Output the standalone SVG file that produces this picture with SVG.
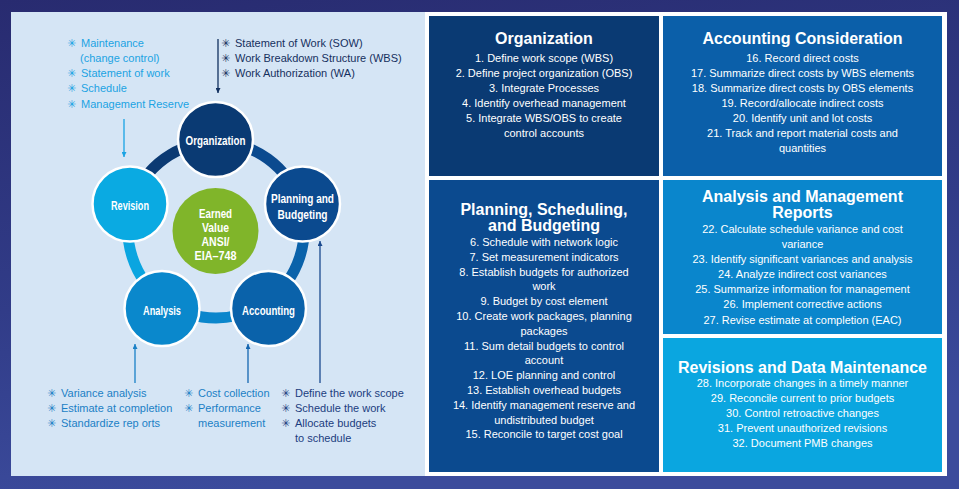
<svg xmlns="http://www.w3.org/2000/svg" width="959" height="489" viewBox="0 0 959 489">
<defs>
<linearGradient id="bg" x1="0" y1="0" x2="0.25" y2="1">
<stop offset="0" stop-color="#282b70"/>
<stop offset="0.6" stop-color="#313c88"/>
<stop offset="1" stop-color="#3b4b9c"/>
</linearGradient>
<marker id="m-lb" viewBox="0 0 6 6" refX="6" refY="3" markerWidth="5" markerHeight="5" markerUnits="userSpaceOnUse" orient="auto"><path d="M0,0 L6,3 L0,6 z" fill="#1aa3e3"/></marker>
<marker id="m-dk" viewBox="0 0 6 6" refX="6" refY="3" markerWidth="5" markerHeight="5" markerUnits="userSpaceOnUse" orient="auto"><path d="M0,0 L6,3 L0,6 z" fill="#12305f"/></marker>
<marker id="m-mb" viewBox="0 0 6 6" refX="6" refY="3" markerWidth="5" markerHeight="5" markerUnits="userSpaceOnUse" orient="auto"><path d="M0,0 L6,3 L0,6 z" fill="#1a80c6"/></marker>
<marker id="m-ac" viewBox="0 0 6 6" refX="6" refY="3" markerWidth="5" markerHeight="5" markerUnits="userSpaceOnUse" orient="auto"><path d="M0,0 L6,3 L0,6 z" fill="#1566b0"/></marker>
<marker id="m-pl" viewBox="0 0 6 6" refX="6" refY="3" markerWidth="5" markerHeight="5" markerUnits="userSpaceOnUse" orient="auto"><path d="M0,0 L6,3 L0,6 z" fill="#1b4a8e"/></marker>
</defs>
<style>
.ll{font-family:"Liberation Sans",Arial,sans-serif;font-size:11px}
.b{font-family:"DejaVu Sans",sans-serif;font-size:11px}
.lb{fill:#1ba3e3}
.dk{fill:#15305e}
.mb{fill:#1b7fc5}
.pl{fill:#1c3d7f}
.ct{font-family:"Liberation Sans",Arial,sans-serif;font-weight:bold;font-size:13px;fill:#fff;text-anchor:middle}
.bt{font-family:"Liberation Sans",Arial,sans-serif;font-weight:bold;font-size:16px;fill:#fff;text-anchor:middle}
.bi{font-family:"Liberation Sans",Arial,sans-serif;font-size:11px;fill:#fff;text-anchor:middle}
.node{stroke:#fff;stroke-width:2.5}
.ring{fill:none;stroke-width:11}
.arr{fill:none;stroke-width:1.3}
</style>
<rect x="0" y="0" width="959" height="489" fill="url(#bg)"/>
<rect x="11" y="12" width="414" height="464" fill="#d5e5f5"/>
<rect x="425" y="12" width="522" height="464" fill="#ffffff"/>

<g id="ring">
<path class="ring" stroke="#0b3a73" d="M132.3,202.8 A88,88 0 0 1 216,142"/>
<path class="ring" stroke="#0b4a8f" d="M216,142 A88,88 0 0 1 299.7,202.8"/>
<path class="ring" stroke="#0a62aa" d="M299.7,202.8 A88,88 0 0 1 267.7,301.2"/>
<path class="ring" stroke="#0a86cc" d="M267.7,301.2 A88,88 0 0 1 164.3,301.2"/>
<path class="ring" stroke="#0aa5e0" d="M164.3,301.2 A88,88 0 0 1 132.3,202.8"/>
</g>

<g id="connectors">
<line class="arr" stroke="#1aa3e3" x1="124" y1="119" x2="124" y2="157" marker-end="url(#m-lb)"/>
<line class="arr" stroke="#12305f" x1="218" y1="39" x2="218" y2="93" marker-end="url(#m-dk)"/>
<line class="arr" stroke="#1a80c6" x1="135" y1="383" x2="135" y2="344" marker-end="url(#m-mb)"/>
<line class="arr" stroke="#1566b0" x1="248" y1="383" x2="248" y2="344" marker-end="url(#m-ac)"/>
<line class="arr" stroke="#1b4a8e" x1="320" y1="383" x2="320" y2="241" marker-end="url(#m-pl)"/>
</g>

<g id="node-organization">
<circle class="node" cx="215.5" cy="139.5" r="37.5" fill="#0a3a73"/>
<text class="ct" x="215.5" y="144.5" textLength="60" lengthAdjust="spacingAndGlyphs">Organization</text>
</g>
<g id="node-planning">
<circle class="node" cx="302.5" cy="204" r="37.5" fill="#0b4a8f"/>
<text class="ct" x="302.5" y="202.5" textLength="63" lengthAdjust="spacingAndGlyphs">Planning and</text>
<text class="ct" x="302.5" y="218.5" textLength="50" lengthAdjust="spacingAndGlyphs">Budgeting</text>
</g>
<g id="node-accounting">
<circle class="node" cx="268.5" cy="308.5" r="37.5" fill="#0a62aa"/>
<text class="ct" x="268.5" y="314.5" textLength="53" lengthAdjust="spacingAndGlyphs">Accounting</text>
</g>
<g id="node-analysis">
<circle class="node" cx="162" cy="308.5" r="37.5" fill="#0a88cc"/>
<text class="ct" x="162" y="314.5" textLength="38" lengthAdjust="spacingAndGlyphs">Analysis</text>
</g>
<g id="node-revision">
<circle class="node" cx="130" cy="204" r="37.5" fill="#0aaae2"/>
<text class="ct" x="130" y="209.5" textLength="38" lengthAdjust="spacingAndGlyphs">Revision</text>
</g>
<g id="node-ev">
<circle cx="215.5" cy="231" r="43" fill="#80b52a"/>
<text class="ct" x="215.5" y="217.5" textLength="33" lengthAdjust="spacingAndGlyphs">Earned</text>
<text class="ct" x="215.5" y="231.5" textLength="27" lengthAdjust="spacingAndGlyphs">Value</text>
<text class="ct" x="215.5" y="245.5" textLength="28" lengthAdjust="spacingAndGlyphs">ANSI/</text>
<text class="ct" x="215.5" y="259.5" textLength="42" lengthAdjust="spacingAndGlyphs">EIA–748</text>
</g>

<g id="list-revision" class="lb">
<text y="47"><tspan class="b" x="67">✳</tspan><tspan class="ll" x="81">Maintenance</tspan></text>
<text class="ll" x="80" y="62">(change control)</text>
<text y="77"><tspan class="b" x="67">✳</tspan><tspan class="ll" x="81">Statement of work</tspan></text>
<text y="92"><tspan class="b" x="67">✳</tspan><tspan class="ll" x="81">Schedule</tspan></text>
<text y="108"><tspan class="b" x="67">✳</tspan><tspan class="ll" x="81">Management Reserve</tspan></text>
</g>
<g id="list-organization" class="dk">
<text y="47"><tspan class="b" x="221">✳</tspan><tspan class="ll" x="235">Statement of Work (SOW)</tspan></text>
<text y="62"><tspan class="b" x="221">✳</tspan><tspan class="ll" x="235">Work Breakdown Structure (WBS)</tspan></text>
<text y="77"><tspan class="b" x="221">✳</tspan><tspan class="ll" x="235">Work Authorization (WA)</tspan></text>
</g>
<g id="list-analysis" class="mb">
<text y="397"><tspan class="b" x="47">✳</tspan><tspan class="ll" x="61">Variance analysis</tspan></text>
<text y="412"><tspan class="b" x="47">✳</tspan><tspan class="ll" x="61">Estimate at completion</tspan></text>
<text y="427"><tspan class="b" x="47">✳</tspan><tspan class="ll" x="61">Standardize rep orts</tspan></text>
</g>
<g id="list-accounting" class="mb">
<text y="397"><tspan class="b" x="184">✳</tspan><tspan class="ll" x="198">Cost collection</tspan></text>
<text y="412"><tspan class="b" x="184">✳</tspan><tspan class="ll" x="198">Performance</tspan></text>
<text class="ll" x="198" y="427">measurement</text>
</g>
<g id="list-planning" class="pl">
<text y="397"><tspan class="b" x="281">✳</tspan><tspan class="ll" x="295">Define the work scope</tspan></text>
<text y="412"><tspan class="b" x="281">✳</tspan><tspan class="ll" x="295">Schedule the work</tspan></text>
<text y="427"><tspan class="b" x="281">✳</tspan><tspan class="ll" x="295">Allocate budgets</tspan></text>
<text class="ll" x="295" y="442">to schedule</text>
</g>

<g id="box-organization">
<rect x="429" y="16" width="230" height="160" fill="#0a3a73"/>
<text class="bt" x="544" y="44">Organization</text>
<text class="bi" x="544" y="62">1. Define work scope (WBS)</text>
<text class="bi" x="544" y="77">2. Define project organization (OBS)</text>
<text class="bi" x="544" y="92">3. Integrate Processes</text>
<text class="bi" x="544" y="107">4. Identify overhead management</text>
<text class="bi" x="544" y="122">5. Integrate WBS/OBS to create</text>
<text class="bi" x="544" y="137">control accounts</text>
</g>
<g id="box-accounting">
<rect x="663" y="16" width="279" height="160" fill="#0b5fa9"/>
<text class="bt" x="802.5" y="44">Accounting Consideration</text>
<text class="bi" x="802.5" y="62">16. Record direct costs</text>
<text class="bi" x="802.5" y="77">17. Summarize direct costs by WBS elements</text>
<text class="bi" x="802.5" y="92">18. Summarize direct costs by OBS elements</text>
<text class="bi" x="802.5" y="107">19. Record/allocate indirect costs</text>
<text class="bi" x="802.5" y="122">20. Identify unit and lot costs</text>
<text class="bi" x="802.5" y="137">21. Track and report material costs and</text>
<text class="bi" x="802.5" y="152">quantities</text>
</g>
<g id="box-planning">
<rect x="429" y="180" width="230" height="292" fill="#0b4a8f"/>
<text class="bt" x="544" y="215">Planning, Scheduling,</text>
<text class="bt" x="544" y="231">and Budgeting</text>
<text class="bi" x="544" y="246">6. Schedule with network logic</text>
<text class="bi" x="544" y="261">7. Set measurement indicators</text>
<text class="bi" x="544" y="276">8. Establish budgets for authorized</text>
<text class="bi" x="544" y="290">work</text>
<text class="bi" x="544" y="305">9. Budget by cost element</text>
<text class="bi" x="544" y="320">10. Create work packages, planning</text>
<text class="bi" x="544" y="335">packages</text>
<text class="bi" x="544" y="350">11. Sum detail budgets to control</text>
<text class="bi" x="544" y="364">account</text>
<text class="bi" x="544" y="379">12. LOE planning and control</text>
<text class="bi" x="544" y="394">13. Establish overhead budgets</text>
<text class="bi" x="544" y="409">14. Identify management reserve and</text>
<text class="bi" x="544" y="424">undistributed budget</text>
<text class="bi" x="544" y="438">15. Reconcile to target cost goal</text>
</g>
<g id="box-analysis">
<rect x="663" y="180" width="279" height="154" fill="#0a86cc"/>
<text class="bt" x="802.5" y="202">Analysis and Management</text>
<text class="bt" x="802.5" y="218">Reports</text>
<text class="bi" x="802.5" y="233">22. Calculate schedule variance and cost</text>
<text class="bi" x="802.5" y="248">variance</text>
<text class="bi" x="802.5" y="263">23. Identify significant variances and analysis</text>
<text class="bi" x="802.5" y="278">24. Analyze indirect  cost variances</text>
<text class="bi" x="802.5" y="293">25. Summarize information for management</text>
<text class="bi" x="802.5" y="308">26. Implement corrective actions</text>
<text class="bi" x="802.5" y="324">27. Revise estimate at completion (EAC)</text>
</g>
<g id="box-revisions">
<rect x="663" y="338" width="279" height="134" fill="#0aa6e0"/>
<text class="bt" x="802.5" y="373">Revisions and Data Maintenance</text>
<text class="bi" x="802.5" y="387">28. Incorporate changes in a timely manner</text>
<text class="bi" x="802.5" y="402">29. Reconcile current to prior budgets</text>
<text class="bi" x="802.5" y="417">30. Control retroactive changes</text>
<text class="bi" x="802.5" y="432">31. Prevent unauthorized revisions</text>
<text class="bi" x="802.5" y="447">32. Document PMB changes</text>
</g>
</svg>
